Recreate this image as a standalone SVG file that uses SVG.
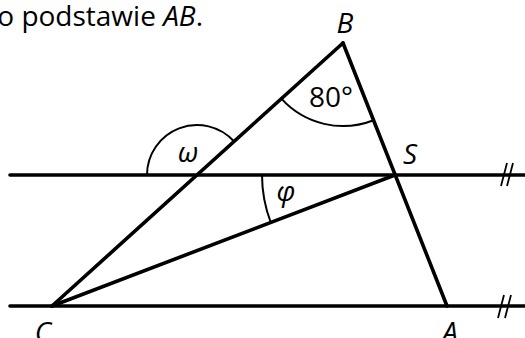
<svg xmlns="http://www.w3.org/2000/svg" width="525" height="338" viewBox="0 0 525 338">
<style>
.ln{stroke:#000;stroke-width:3.6;stroke-linecap:round;fill:none}
.arc{stroke:#000;stroke-width:2;fill:none}
.tk{stroke:#000;stroke-width:1.8;fill:none}
.t{font-family:"Open Sans","Noto Sans","Liberation Sans",sans-serif;font-size:28px;fill:#000}
.i{font-style:italic}
</style>
<rect width="525" height="338" fill="#fff"/>
<text class="t" x="203" y="26" text-anchor="end">o podstawie <tspan class="i">AB</tspan>.</text>
<g id="connectors">
<line class="ln" x1="10" y1="175" x2="527" y2="175"/>
<line class="ln" x1="10" y1="306" x2="527" y2="306"/>
<line class="ln" x1="52" y1="306" x2="343" y2="43"/>
<line class="ln" x1="343" y1="43" x2="447" y2="306"/>
<line class="ln" x1="52" y1="306" x2="395" y2="175"/>
<path class="tk" d="M501,186 L507,163 M507,186 L513,163"/>
<path class="tk" d="M498,318 L504,295 M505,318 L511,295"/>
</g>
<g id="angle-B">
<path class="arc" d="M281.4,98.7 A83,83 0 0 0 373.5,120.2"/>
<text class="t" x="331" y="107" text-anchor="middle">80°</text>
</g>
<g id="angle-omega">
<path class="arc" d="M147,175 A50,50 0 0 1 234.1,141.5"/>
<text class="t i" x="188" y="162" text-anchor="middle">ω</text>
</g>
<g id="angle-phi">
<path class="arc" d="M262,175 A133,133 0 0 0 270.8,222.5"/>
<text class="t i" x="286" y="201" text-anchor="middle">φ</text>
</g>
<g id="B"><text class="t i" x="345" y="33" text-anchor="middle">B</text></g>
<g id="S"><text class="t i" x="410" y="164" text-anchor="middle">S</text></g>
<g id="C"><text class="t i" x="43" y="342" text-anchor="middle">C</text></g>
<g id="A"><text class="t i" x="450" y="342" text-anchor="middle">A</text></g>
</svg>
